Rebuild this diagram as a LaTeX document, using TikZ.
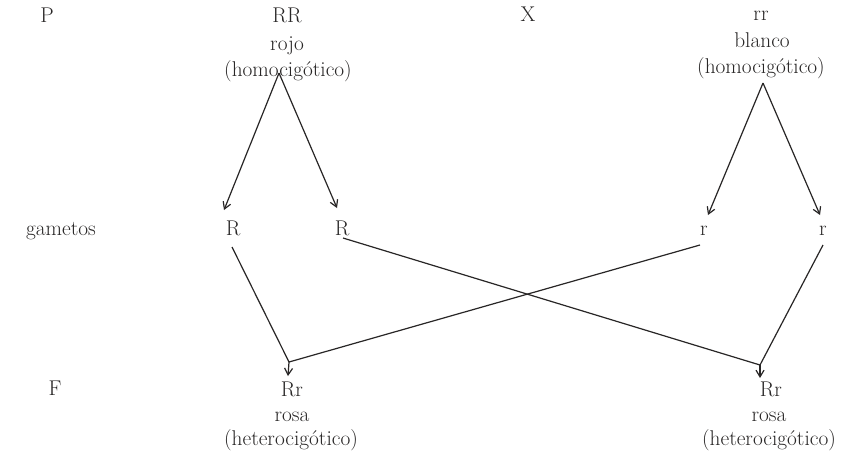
\documentclass[tikz,border=0pt]{standalone}
\usetikzlibrary{arrows.meta}
\definecolor{ink}{RGB}{40,38,38}
\begin{document}
\begin{tikzpicture}[x=0.75pt,y=-0.75pt,
  lbl/.style={anchor=base,inner sep=0pt,text=ink,font=\fontsize{16}{19}\selectfont},
  link/.style={draw=ink,line width=0.9pt},
  arr/.style={link,-{Straight Barb[length=5pt,width=6pt,line width=0.9pt]}}]
\useasboundingbox[fill=white] (0,0) rectangle (848,451);
% top row
\node[lbl] (P) at (47,22) {P};
\node[lbl] (RRg) at (287,22) {RR};
\node[lbl] (rojo) at (287,50) {rojo};
\node[lbl] (homL) at (288,76) {(homocig\'otico)};
\node[lbl] (X) at (528,21) {X};
\node[lbl] (rrg) at (761,20) {rr};
\node[lbl] (blanco) at (762,47) {blanco};
\node[lbl] (homR) at (761,73) {(homocig\'otico)};
% gametes
\node[lbl] (gam) at (61,235) {gametos};
\node[lbl] (RA) at (233,235) {R};
\node[lbl] (RB) at (342,235) {R};
\node[lbl] (rA) at (704,235) {r};
\node[lbl] (rB) at (823,235) {r};
% F1
\node[lbl] (F) at (55,395) {F};
\node[lbl] (RrL) at (292,396) {Rr};
\node[lbl] (rosaL) at (292,421) {rosa};
\node[lbl] (hetL) at (291,445) {(heterocig\'otico)};
\node[lbl] (RrR) at (771,396) {Rr};
\node[lbl] (rosaR) at (769,421) {rosa};
\node[lbl] (hetR) at (769,445) {(heterocig\'otico)};
% helper points
\coordinate (apL) at (279,73);
\coordinate (apR) at (763,83);
\coordinate (tRA) at (224,210);
\coordinate (tRB) at (337,208);
\coordinate (trA) at (708,215);
\coordinate (trB) at (820,215);
\coordinate (sRA) at (232,247);
\coordinate (sRB) at (343,238);
\coordinate (srA) at (700,245);
\coordinate (srB) at (823,245);
\coordinate (mL) at (289,362);
\coordinate (mR) at (760,365);
\coordinate (eL) at (288,376);
\coordinate (eR) at (760,378);
% arrows from parents to gametes
\draw[arr] (apL) -- (tRA);
\draw[arr] (apL) -- (tRB);
\draw[arr] (apR) -- (trA);
\draw[arr] (apR) -- (trB);
% crossing lines
\draw[link] (sRA) -- (mL);
\draw[link] (srA) -- (mL);
\draw[link] (sRB) -- (mR);
\draw[link] (srB) -- (mR);
\draw[arr] (mL) -- (eL);
\draw[arr] (mR) -- (eR);
\end{tikzpicture}
\end{document}
